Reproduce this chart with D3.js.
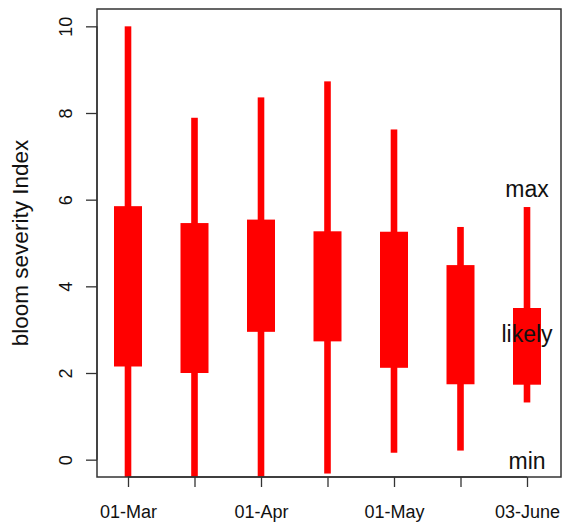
<!DOCTYPE html>
<html>
<head>
<meta charset="utf-8">
<script src="https://cdn.jsdelivr.net/npm/d3@7"></script>
<style>
  html, body { margin: 0; padding: 0; background: #fff; }
  svg { display: block; font-family: "Liberation Sans", Arial, sans-serif; }
</style>
</head>
<body>
<svg id="chart" width="564" height="522"></svg>
<script>
// ---- data ----
const categories = ["01-Mar", "16-Mar", "01-Apr", "16-Apr", "01-May", "16-May", "03-June"];
const shownTickLabels = ["01-Mar", "01-Apr", "01-May", "03-June"];
const minValues    = [-0.4, -0.4, -0.4, -0.32, 0.16, 0.21, 1.32];
const likelyLow    = [2.15, 2.0, 2.95, 2.73, 2.12, 1.74, 1.73];
const likelyHigh   = [5.85, 5.46, 5.54, 5.27, 5.26, 4.49, 3.50];
const maxValues    = [10.0, 7.89, 8.36, 8.73, 7.62, 5.37, 5.83];
const yTicks       = [0, 2, 4, 6, 8, 10];
const annotLabels  = ["max", "likely", "min"];
const annotValues  = [6.06, 2.71, -0.21];
const yTitle = "bloom severity Index";

// ---- layout ----
const svg = d3.select("#chart");
const plot = { left: 97, right: 561, top: 9, bottom: 477 };
const red = "#ff0000";

const x = d3.scalePoint().domain(categories).range([128, 527]);
const y = d3.scaleLinear().domain([-0.4, 10.4]).range([plot.bottom, plot.top]);

svg.append("defs").append("clipPath").attr("id", "clip")
  .append("rect")
  .attr("x", plot.left).attr("y", plot.top)
  .attr("width", plot.right - plot.left).attr("height", plot.bottom - plot.top);

const data = categories.map((c, i) => ({
  c, min: minValues[i], lo: likelyLow[i], hi: likelyHigh[i], max: maxValues[i]
}));

const g = svg.append("g").attr("clip-path", "url(#clip)");

// whiskers
g.selectAll("rect.whisk").data(data).enter().append("rect")
  .attr("class", "whisk")
  .attr("x", d => x(d.c) - 3.3)
  .attr("width", 6.6)
  .attr("y", d => y(d.max))
  .attr("height", d => y(d.min) - y(d.max))
  .attr("fill", red);

// likely boxes
g.selectAll("rect.box").data(data).enter().append("rect")
  .attr("class", "box")
  .attr("x", d => x(d.c) - 14)
  .attr("width", 28)
  .attr("y", d => y(d.hi))
  .attr("height", d => y(d.lo) - y(d.hi))
  .attr("fill", red);

// annotations
svg.selectAll("text.annot").data(annotLabels).enter().append("text")
  .attr("class", "annot")
  .attr("x", x(categories[categories.length - 1]))
  .attr("y", (d, i) => y(annotValues[i]))
  .attr("text-anchor", "middle")
  .attr("font-size", 23)
  .attr("fill", "#111")
  .text(d => d);

// frame
svg.append("rect")
  .attr("x", plot.left).attr("y", plot.top)
  .attr("width", plot.right - plot.left).attr("height", plot.bottom - plot.top)
  .attr("fill", "none").attr("stroke", "#333").attr("stroke-width", 1.5);

// y axis
const yAxis = d3.axisLeft(y).tickValues(yTicks).tickSize(11).tickPadding(0).tickFormat(d3.format("d"));
const ya = svg.append("g").attr("transform", `translate(${plot.left},0)`).call(yAxis);
ya.select(".domain").attr("d", `M-0,${y(0)}V${y(10)}`).attr("stroke", "#333").attr("stroke-width", 1.3);
ya.selectAll(".tick line").attr("stroke", "#333").attr("stroke-width", 1.3);
ya.selectAll(".tick text")
  .attr("x", null).attr("dy", null)
  .attr("transform", "translate(-25,0) rotate(-90)")
  .attr("text-anchor", "middle")
  .attr("font-size", 18)
  .attr("font-family", "Liberation Sans, Arial, sans-serif")
  .attr("fill", "#111");

// x axis
const xAxis = d3.axisBottom(x).tickSize(10).tickPadding(0)
  .tickFormat(d => shownTickLabels.includes(d) ? d : "");
const xa = svg.append("g").attr("transform", `translate(0,${plot.bottom})`).call(xAxis);
xa.select(".domain").attr("d", `M${x(categories[0])},0H${x(categories[categories.length-1])}`)
  .attr("stroke", "#333").attr("stroke-width", 1.3);
xa.selectAll(".tick line").attr("stroke", "#333").attr("stroke-width", 1.3);
xa.selectAll(".tick text")
  .attr("y", 41).attr("dy", null)
  .attr("font-size", 18)
  .attr("font-family", "Liberation Sans, Arial, sans-serif")
  .attr("fill", "#111");

// y title
svg.append("text")
  .attr("transform", `translate(28,${(y(0) + y(10)) / 2 + 0}) rotate(-90)`)
  .attr("text-anchor", "middle")
  .attr("font-size", 22.5)
  .attr("fill", "#111")
  .text(yTitle);
</script>
</body>
</html>
